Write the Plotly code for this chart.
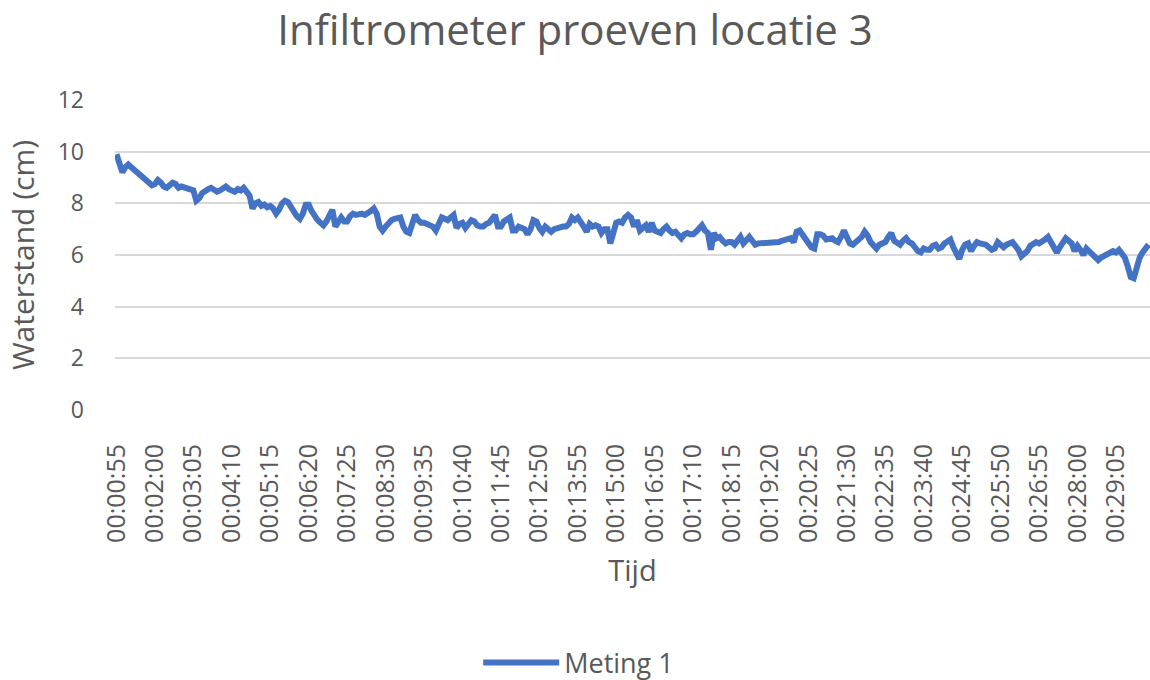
import plotly.graph_objects as go

# Time categories: 00:00:55 to 00:30:00 in 5 s steps
start_s = 55
step_s = 5
n_points = 350
times = []
for i in range(n_points):
    t = start_s + i * step_s
    times.append(f"{t // 3600:02d}:{(t % 3600) // 60:02d}:{t % 60:02d}")

# Waterstand (cm) (13 samples per block)
meting1 = [
    9.9, 9.6, 9.2, 9.4, 9.5, 9.4, 9.3, 9.2, 9.1, 9.0, 8.85, 8.8, 8.7,
    8.75, 8.9, 8.8, 8.65, 8.6, 8.7, 8.8, 8.75, 8.6, 8.65, 8.6, 8.6, 8.55,
    8.5, 8.1, 8.2, 8.4, 8.5, 8.55, 8.6, 8.5, 8.45, 8.5, 8.55, 8.65, 8.55,
    8.5, 8.45, 8.55, 8.5, 8.6, 8.45, 8.3, 7.8, 8.0, 8.05, 7.9, 7.95, 7.85,
    7.9, 7.8, 7.6, 7.75, 8.0, 8.1, 8.05, 7.85, 7.7, 7.5, 7.4, 7.6, 7.95,
    7.95, 7.7, 7.5, 7.35, 7.25, 7.15, 7.3, 7.6, 7.75, 7.1, 7.25, 7.45, 7.3,
    7.3, 7.5, 7.6, 7.55, 7.6, 7.6, 7.55, 7.6, 7.7, 7.8, 7.6, 7.1, 6.95,
    7.1, 7.25, 7.35, 7.4, 7.4, 7.45, 7.1, 6.9, 6.85, 7.3, 7.55, 7.35, 7.25,
    7.25, 7.2, 7.15, 7.1, 6.95, 7.2, 7.45, 7.4, 7.35, 7.45, 7.55, 7.05, 7.2,
    7.25, 7.05, 7.2, 7.35, 7.3, 7.15, 7.1, 7.1, 7.2, 7.25, 7.4, 7.55, 7.1,
    7.1, 7.3, 7.4, 7.45, 6.95, 6.95, 7.1, 7.05, 7.0, 6.8, 7.0, 7.35, 7.3,
    7.05, 6.9, 7.1, 7.0, 6.9, 7.0, 7.05, 7.1, 7.1, 7.1, 7.2, 7.45, 7.35,
    7.45, 7.3, 7.1, 6.9, 7.2, 7.1, 7.15, 7.1, 6.85, 7.0, 7.0, 6.45, 6.95,
    7.25, 7.3, 7.25, 7.45, 7.55, 7.45, 7.1, 7.35, 6.95, 7.05, 7.15, 6.9, 7.25,
    6.95, 6.9, 6.85, 7.0, 7.1, 6.95, 6.85, 6.9, 6.8, 6.65, 6.8, 6.85, 6.8,
    6.8, 6.9, 7.0, 7.15, 6.95, 6.85, 6.2, 6.85, 6.65, 6.7, 6.55, 6.45, 6.5,
    6.5, 6.4, 6.6, 6.7, 6.45, 6.55, 6.7, 6.55, 6.4, 6.45, 6.45, 6.45, 6.45,
    6.5, 6.5, 6.5, 6.5, 6.55, 6.6, 6.6, 6.65, 6.5, 6.9, 6.95, 6.8, 6.6,
    6.5, 6.3, 6.25, 6.8, 6.8, 6.75, 6.6, 6.6, 6.65, 6.55, 6.5, 6.7, 6.95,
    6.7, 6.45, 6.4, 6.5, 6.6, 6.7, 6.9, 6.75, 6.5, 6.35, 6.25, 6.4, 6.45,
    6.5, 6.7, 6.85, 6.55, 6.45, 6.4, 6.55, 6.65, 6.5, 6.45, 6.3, 6.15, 6.1,
    6.25, 6.2, 6.2, 6.35, 6.4, 6.25, 6.3, 6.45, 6.55, 6.6, 6.3, 6.0, 5.85,
    6.2, 6.4, 6.45, 6.15, 6.35, 6.5, 6.45, 6.45, 6.4, 6.3, 6.2, 6.25, 6.5,
    6.4, 6.3, 6.4, 6.45, 6.5, 6.35, 6.2, 5.95, 6.05, 6.15, 6.35, 6.45, 6.5,
    6.45, 6.5, 6.6, 6.7, 6.5, 6.25, 6.1, 6.3, 6.5, 6.65, 6.55, 6.45, 6.15,
    6.35, 6.2, 6.0, 6.25, 6.15, 6.05, 5.9, 5.8, 5.9, 5.95, 6.0, 6.05, 6.15,
    6.1, 6.2, 6.05, 5.9, 5.55, 5.15, 5.1, 5.6, 5.9, 6.1, 6.3, 6.4,
]

tick_every = 13
tick_labels = times[::tick_every]
y_ticks = [0, 2, 4, 6, 8, 10, 12]

FONT = "Open Sans"
GREY = "#595959"

fig = go.Figure()
fig.add_trace(go.Scatter(
    x=times, y=meting1, mode="lines", name="Meting 1",
    line=dict(color="#4472C4", width=6),
))

fig.update_layout(
    width=1150, height=680,
    paper_bgcolor="white", plot_bgcolor="white",
    margin=dict(l=115, r=0, t=100, b=270, autoexpand=False),
    font=dict(family=FONT, color=GREY),
    title=dict(text="Infiltrometer proeven locatie 3", x=0.5, xanchor="center",
               y=0.955, yanchor="middle",
               font=dict(size=42, color=GREY, family=FONT)),
    showlegend=True,
    legend=dict(orientation="h", x=0.448, xanchor="center", y=-0.816, yanchor="middle",
                font=dict(size=27, color=GREY), itemwidth=76),
    xaxis=dict(
        type="category", range=[-0.5, n_points - 0.5],
        tickmode="array", tickvals=tick_labels, ticktext=tick_labels,
        tickangle=-90, tickfont=dict(size=25, color=GREY),
        ticklabelstandoff=28, automargin=False,
        showgrid=False, showline=False, zeroline=False, ticks="",
        title=dict(text="Tijd", font=dict(size=29, color=GREY), standoff=18),
    ),
    yaxis=dict(
        range=[0, 12], tickmode="array", tickvals=y_ticks,
        tickfont=dict(size=23, color=GREY),
        ticklabelstandoff=30, automargin=False,
        showgrid=True, gridcolor="#D9D9D9", gridwidth=2,
        zeroline=False, showline=False, ticks="",
        title=dict(text="Waterstand (cm)", font=dict(size=30, color=GREY), standoff=14),
    ),
)

fig.write_html(
    "out.html",
    config={"displayModeBar": False},
    post_script="document.body.style.margin='0';document.body.style.overflow='hidden';",
)
